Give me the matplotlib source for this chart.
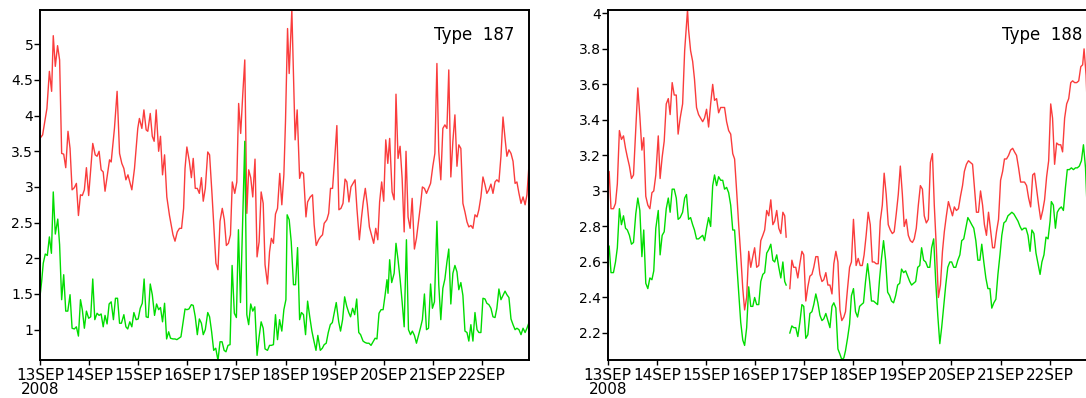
import numpy as np
import matplotlib
matplotlib.use('Agg')
import matplotlib.pyplot as plt

# x axis: hours after 13SEP2008 00Z
day_ticks = [0, 24, 48, 72, 96, 120, 144, 168, 192, 216]
day_labels = ['13SEP\n2008', '14SEP', '15SEP', '16SEP', '17SEP',
              '18SEP', '19SEP', '20SEP', '21SEP', '22SEP']

# ---- Type 187 ----
red187_h = [
    0, 1.3, 3.4, 4.6, 5.7, 6.5, 7.5, 8.6, 9.6, 10.6,
    11.6, 12.6, 13.7, 14.7, 15.7, 16.8, 17.8, 18.8, 19.8, 20.7,
    21.7, 22.7, 23.8, 25.8, 27.0, 27.9, 28.9, 29.9, 30.9, 31.8,
    34.0, 34.8, 36.4, 37.7, 38.9, 40.0, 41.0, 42.0, 43.0, 44.9,
    46.2, 47.8, 48.6, 49.8, 50.8, 51.9, 52.7, 53.9, 54.9, 55.8,
    56.8, 58.0, 58.9, 59.9, 60.9, 62.0, 63.3, 65.0, 66.0, 67.1,
    68.2, 69.2, 70.2, 70.9, 71.8, 73.0, 74.0, 74.9, 75.9, 76.9,
    77.9, 78.9, 79.8, 80.8, 82.0, 82.9, 84.1, 85.1, 86.0, 87.0,
    88.0, 89.1, 90.1, 91.1, 92.1, 93.1, 94.0, 95.2, 96.2, 97.1,
    98.1, 99.1, 100.1, 101.1, 102.0, 103.0, 104.0, 105.1, 106.1, 107.1,
    108.1, 109.1, 110.0, 111.2, 112.2, 113.1, 114.1, 115.1, 116.1, 117.2,
    118.2, 119.2, 120.0, 121.0, 121.8, 123.1, 124.7, 125.7, 126.9, 127.7,
    128.8, 130.0, 130.8, 132.1, 133.2, 134.0, 135.0, 136.2, 137.1, 138.1,
    138.9, 140.2, 141.1, 142.0, 143.0, 144.0, 145.1, 146.1, 147.1, 148.1,
    149.1, 150.0, 151.0, 152.0, 153.0, 154.0, 154.9, 156.1, 157.1, 158.0,
    159.0, 160.0, 161.0, 162.0, 163.1, 164.1, 165.1, 166.0, 167.0, 168.0,
    169.0, 170.0, 170.9, 172.1, 173.1, 174.0, 175.0, 176.0, 177.0, 178.0,
    178.9, 179.9, 180.9, 181.9, 183.0, 184.0, 185.0, 186.0, 186.9, 187.9,
    188.9, 189.9, 190.9, 192.0, 193.0, 194.0, 194.9, 195.9, 196.9, 197.9,
    198.9, 199.8, 200.8, 201.8, 202.8, 203.8, 204.7, 205.7, 206.7, 207.7,
    208.7, 209.6, 210.6, 211.6, 212.6, 213.6, 214.5, 215.5, 216.5, 217.5,
    218.4, 219.4, 220.4, 221.4, 222.4, 223.3, 224.3, 225.3, 226.3, 227.3,
    228.2, 229.2, 230.2, 231.2, 232.2, 233.1, 234.1, 235.1, 236.1, 237.1,
    238.0, 239.0]
red187_v = [
    3.68, 3.73, 4.10, 4.62, 4.34, 5.12, 4.69, 4.98, 4.78, 3.47,
    3.46, 3.27, 3.78, 3.54, 2.96, 2.99, 3.05, 2.60, 2.89, 2.88,
    2.96, 3.27, 2.88, 3.61, 3.45, 3.43, 3.50, 3.24, 3.21, 2.94,
    3.38, 3.35, 3.82, 4.34, 3.47, 3.33, 3.26, 3.10, 3.17, 2.96,
    3.26, 3.82, 3.96, 3.82, 4.08, 3.80, 3.78, 4.03, 3.71, 3.64,
    4.08, 3.50, 3.71, 3.17, 3.45, 2.86, 2.60, 2.33, 2.24, 2.37,
    2.42, 2.42, 2.70, 3.26, 3.56, 3.36, 3.13, 3.40, 2.98, 2.98,
    2.91, 3.13, 2.80, 2.98, 3.49, 3.45, 2.89, 2.37, 1.93, 1.84,
    2.52, 2.70, 2.54, 2.18, 2.21, 2.33, 3.07, 2.91, 3.07, 4.17,
    3.75, 4.29, 4.78, 2.63, 3.24, 3.13, 2.86, 3.39, 2.02, 2.23,
    2.93, 2.77, 1.91, 1.64, 2.09, 2.28, 2.21, 2.62, 2.70, 3.19,
    2.75, 3.17, 3.92, 5.22, 4.59, 5.48, 3.66, 4.08, 3.12, 3.21,
    3.19, 2.58, 2.79, 2.86, 2.89, 2.47, 2.18, 2.26, 2.30, 2.33,
    2.49, 2.54, 2.63, 2.98, 2.98, 3.38, 3.86, 2.68, 2.70, 2.77,
    3.11, 3.07, 2.79, 3.00, 3.05, 3.10, 2.70, 2.26, 2.56, 2.79,
    2.98, 2.75, 2.44, 2.33, 2.21, 2.42, 2.26, 2.79, 3.07, 2.80,
    3.66, 3.33, 3.68, 2.93, 2.82, 4.30, 3.40, 3.57, 3.12, 2.37,
    3.50, 2.58, 2.42, 2.84, 2.13, 2.28, 2.51, 2.75, 3.00, 2.98,
    2.91, 2.98, 3.05, 3.29, 3.47, 4.73, 3.50, 3.10, 3.82, 3.87,
    3.82, 4.64, 3.14, 3.64, 4.01, 3.29, 3.59, 3.54, 2.77, 2.65,
    2.51, 2.44, 2.46, 2.42, 2.61, 2.58, 2.68, 2.86, 3.14, 3.03,
    2.91, 2.96, 3.04, 2.91, 3.07, 3.10, 3.07, 3.43, 3.98, 3.68,
    3.43, 3.52, 3.47, 3.36, 3.05, 3.07, 2.91, 2.77, 2.86, 2.75,
    2.89, 3.31]

green187_h = [
    0.0, 0.8, 1.6, 2.6, 3.6, 4.6, 5.6, 6.5, 7.5, 8.7,
    9.6, 10.6, 11.6, 12.6, 13.6, 14.7, 15.7, 16.8, 17.8, 18.8,
    19.8, 20.7, 21.7, 22.7, 23.8, 24.8, 25.8, 26.8, 27.9, 28.9,
    29.9, 30.9, 31.8, 32.8, 33.8, 34.8, 35.9, 36.9, 37.9, 38.9,
    39.8, 41.0, 42.0, 42.9, 43.9, 44.9, 45.9, 47.0, 48.0, 49.0,
    50.0, 50.9, 51.9, 52.9, 53.9, 54.9, 56.0, 57.0, 58.0, 58.9,
    59.9, 60.9, 61.9, 62.9, 63.8, 65.0, 66.0, 66.9, 67.9, 68.9,
    69.9, 70.9, 71.8, 72.8, 74.0, 74.9, 75.9, 76.9, 77.9, 78.9,
    79.8, 80.8, 82.0, 82.9, 83.9, 84.9, 85.9, 87.0, 88.0, 89.0,
    90.0, 90.9, 91.9, 92.9, 93.9, 95.0, 96.0, 97.0, 98.0, 100.1,
    101.1, 102.0, 103.0, 104.0, 105.0, 106.1, 107.1, 108.1, 109.1, 110.0,
    111.2, 112.2, 113.1, 114.1, 115.1, 116.1, 117.1, 118.2, 119.2, 120.2,
    120.8, 121.8, 122.8, 123.9, 124.9, 125.9, 126.9, 127.8, 128.8, 129.8,
    130.8, 131.9, 132.9, 133.9, 134.9, 135.8, 137.0, 138.0, 138.9, 139.9,
    140.9, 141.9, 142.9, 143.8, 144.8, 146.0, 146.9, 147.9, 148.9, 149.9,
    150.9, 151.8, 152.8, 153.8, 154.8, 155.8, 156.7, 157.9, 158.9, 159.8,
    160.8, 161.8, 162.8, 163.8, 164.7, 165.7, 166.7, 167.7, 168.7, 169.6,
    170.1, 170.9, 171.9, 173.1, 174.0, 175.0, 176.0, 177.0, 178.0, 179.1,
    180.1, 181.1, 182.0, 183.0, 184.0, 185.0, 186.0, 186.9, 187.9, 188.9,
    189.9, 190.9, 191.8, 192.8, 194.0, 194.9, 195.9, 196.9, 197.9, 198.9,
    199.8, 200.8, 201.8, 202.8, 203.8, 204.7, 205.7, 206.7, 207.7, 208.7,
    209.6, 210.6, 211.6, 212.6, 213.6, 214.5, 215.5, 216.5, 217.5, 218.4,
    219.4, 220.4, 221.4, 222.4, 223.3, 224.3, 225.3, 226.3, 227.3, 228.2,
    229.2, 230.2, 231.2, 232.2, 233.1, 234.1, 235.1, 236.1, 237.1, 238.0,
    239.0]
green187_v = [
    1.46, 1.67, 1.93, 2.06, 2.04, 2.30, 2.07, 2.93, 2.34, 2.55,
    2.19, 1.42, 1.77, 1.26, 1.26, 1.49, 1.02, 1.01, 1.04, 0.91,
    1.42, 1.28, 1.02, 1.26, 1.16, 1.18, 1.71, 1.14, 1.23, 1.20,
    1.22, 1.04, 1.20, 1.08, 1.36, 1.39, 1.14, 1.44, 1.44, 1.09,
    1.09, 1.21, 1.04, 1.01, 1.11, 1.04, 1.24, 1.14, 1.15, 1.30,
    1.37, 1.71, 1.18, 1.17, 1.64, 1.49, 1.20, 1.36, 1.28, 1.31,
    1.11, 1.37, 0.87, 0.97, 0.88, 0.87, 0.87, 0.86, 0.88, 0.90,
    1.09, 1.29, 1.28, 1.29, 1.35, 1.34, 1.18, 0.93, 1.15, 1.09,
    0.93, 1.00, 1.24, 1.18, 0.97, 0.71, 0.74, 0.57, 0.83, 0.83,
    0.71, 0.69, 0.78, 0.79, 1.90, 1.23, 1.17, 2.40, 1.38, 3.64,
    1.21, 1.07, 1.36, 1.26, 1.32, 0.64, 0.90, 1.11, 1.02, 0.73,
    0.71, 0.78, 0.78, 0.79, 1.21, 0.86, 1.14, 0.98, 1.28, 1.42,
    2.61, 2.54, 2.23, 1.63, 1.63, 2.15, 1.14, 1.24, 1.21, 0.93,
    1.40, 1.17, 0.98, 0.84, 0.71, 0.92, 0.71, 0.74, 0.79, 0.81,
    0.96, 1.07, 1.10, 1.23, 1.38, 1.11, 0.98, 1.14, 1.46, 1.33,
    1.24, 1.18, 1.30, 1.21, 1.43, 0.96, 0.93, 0.84, 0.82, 0.81,
    0.81, 0.78, 0.83, 0.88, 0.87, 1.23, 1.28, 1.28, 1.49, 1.70,
    1.51, 1.98, 1.66, 1.79, 2.21, 1.98, 1.71, 1.39, 1.04, 2.26,
    1.00, 0.93, 0.98, 0.92, 0.81, 0.92, 1.03, 1.14, 1.50, 1.00,
    1.02, 1.64, 1.30, 1.39, 2.52, 1.63, 1.14, 1.58, 1.71, 1.95,
    2.13, 1.36, 1.79, 1.90, 1.81, 1.56, 1.66, 1.48, 0.98, 0.96,
    0.84, 1.07, 0.84, 1.24, 1.00, 0.96, 0.96, 1.44, 1.43, 1.37,
    1.35, 1.30, 1.18, 1.17, 1.30, 1.57, 1.42, 1.48, 1.54, 1.49,
    1.45, 1.15, 1.07, 1.00, 1.02, 1.00, 0.93, 1.02, 0.96, 1.02,
    1.10]

# ---- Type 188 (one missing hour on 16SEP) ----
red188_h = [
    0.0, 0.7, 1.6, 2.8, 3.8, 4.7, 5.7, 6.7, 7.7, 8.7,
    9.6, 10.6, 11.6, 12.6, 13.7, 14.7, 15.7, 16.7, 17.6, 18.6,
    19.6, 20.6, 21.6, 22.5, 23.5, 24.7, 25.6, 26.6, 27.6, 28.6,
    29.6, 30.5, 31.5, 32.5, 33.5, 34.4, 35.4, 36.6, 37.6, 39.0,
    39.5, 40.5, 41.5, 42.4, 43.4, 44.4, 45.4, 46.4, 47.3, 48.3,
    49.3, 50.3, 51.3, 52.2, 53.2, 54.2, 55.2, 56.2, 57.1, 58.1,
    59.1, 60.1, 61.1, 62.0, 63.0, 64.0, 65.0, 66.0, 66.9, 67.9,
    68.9, 69.9, 70.9, 71.8, 72.8, 73.8, 74.8, 75.8, 76.7, 77.7,
    78.7, 79.7, 80.7, 81.6, 82.6, 83.6, 84.6, 85.6, 86.5, 87.2,
    88.0, 89.0, 90.0, 90.9, 91.9, 92.9, 93.9, 94.9, 95.8, 96.8,
    97.8, 98.8, 99.8, 100.7, 101.7, 102.7, 103.7, 104.7, 105.6, 106.6,
    107.6, 108.6, 109.6, 110.5, 111.5, 112.5, 113.5, 114.4, 115.4, 116.2,
    117.2, 118.2, 119.1, 120.1, 121.4, 122.4, 123.4, 124.4, 125.3, 126.3,
    127.3, 128.3, 129.3, 130.2, 131.2, 132.2, 133.2, 134.2, 135.1, 136.1,
    137.1, 138.1, 139.1, 140.0, 141.0, 142.0, 143.0, 144.0, 144.9, 145.9,
    146.9, 147.9, 148.9, 149.8, 150.8, 151.8, 152.8, 153.8, 154.7, 155.7,
    156.7, 157.7, 158.7, 159.6, 160.6, 161.6, 162.6, 163.6, 164.5, 165.5,
    166.5, 167.5, 168.5, 169.4, 170.4, 171.4, 172.4, 173.4, 174.3, 175.3,
    176.3, 177.3, 178.3, 179.2, 180.2, 181.2, 182.2, 183.2, 184.1, 185.1,
    186.1, 187.1, 188.1, 189.0, 190.0, 191.0, 192.0, 193.0, 193.9, 194.9,
    195.9, 196.9, 197.9, 198.8, 199.8, 200.8, 201.8, 202.8, 203.7, 204.7,
    205.7, 206.7, 207.7, 208.6, 209.6, 210.6, 211.6, 212.6, 213.5, 214.5,
    215.5, 216.5, 217.4, 218.4, 219.4, 220.4, 221.4, 222.3, 223.3, 224.3,
    225.3, 226.3, 227.2, 228.2, 229.2, 230.2, 231.2, 232.1, 232.8, 233.8,
    234.4]
red188_v = [
    3.00, 3.11, 2.90, 2.90, 2.93, 3.04, 3.34, 3.29, 3.31, 3.24,
    3.19, 3.14, 3.07, 3.09, 3.35, 3.58, 3.42, 3.23, 3.30, 2.97,
    2.92, 2.90, 2.99, 3.00, 3.09, 3.31, 3.07, 3.19, 3.28, 3.49,
    3.52, 3.43, 3.61, 3.54, 3.54, 3.32, 3.41, 3.49, 3.79, 4.02,
    3.91, 3.79, 3.73, 3.63, 3.47, 3.43, 3.41, 3.39, 3.41, 3.46,
    3.36, 3.49, 3.60, 3.51, 3.52, 3.44, 3.47, 3.47, 3.47, 3.39,
    3.34, 3.32, 3.21, 3.18, 3.00, 2.81, 2.64, 2.45, 2.33, 2.40,
    2.66, 2.57, 2.63, 2.68, 2.57, 2.58, 2.72, 2.75, 2.78, 2.89,
    2.86, 2.95, 2.81, 2.83, 2.89, 2.79, 2.76, 2.88, 2.86, 2.74,
    np.nan, 2.45, 2.61, 2.57, 2.57, 2.51, 2.59, 2.66, 2.64, 2.38,
    2.46, 2.52, 2.53, 2.57, 2.63, 2.63, 2.53, 2.49, 2.50, 2.54,
    2.47, 2.47, 2.42, 2.59, 2.66, 2.60, 2.33, 2.27, 2.29, 2.32,
    2.45, 2.57, 2.60, 2.84, 2.58, 2.62, 2.58, 2.58, 2.64, 2.75,
    2.88, 2.81, 2.60, 2.60, 2.59, 2.59, 2.83, 2.92, 3.10, 2.98,
    2.81, 2.78, 2.76, 2.77, 2.87, 2.98, 3.14, 2.98, 2.80, 2.84,
    2.75, 2.72, 2.71, 2.73, 2.79, 2.92, 3.03, 3.01, 2.86, 2.82,
    2.84, 3.16, 3.21, 2.92, 2.68, 2.40, 2.47, 2.66, 2.77, 2.86,
    2.94, 2.90, 2.86, 2.91, 2.89, 2.90, 2.97, 3.03, 3.11, 3.15,
    3.17, 3.16, 3.15, 3.02, 2.88, 2.88, 3.00, 2.92, 2.81, 2.75,
    2.88, 2.78, 2.68, 2.68, 2.77, 2.84, 3.06, 3.11, 3.18, 3.18,
    3.20, 3.23, 3.24, 3.22, 3.20, 3.13, 3.05, 3.05, 3.05, 3.03,
    2.96, 2.91, 3.09, 3.10, 3.01, 2.92, 2.84, 2.89, 2.95, 3.08,
    3.17, 3.49, 3.41, 3.15, 3.27, 3.26, 3.26, 3.22, 3.41, 3.49,
    3.52, 3.61, 3.62, 3.61, 3.61, 3.62, 3.70, 3.71, 3.80, 3.65,
    3.45]

green188_h = [
    0.0, 0.7, 1.6, 2.8, 3.8, 4.7, 5.7, 6.7, 7.7, 8.7,
    9.6, 10.6, 11.6, 12.6, 13.7, 14.7, 15.7, 16.7, 17.6, 18.6,
    19.6, 20.6, 21.6, 22.5, 23.5, 24.7, 25.6, 26.6, 27.6, 28.6,
    29.6, 30.5, 31.5, 32.5, 33.5, 34.4, 35.4, 36.6, 37.6, 38.5,
    39.5, 40.5, 41.5, 42.4, 43.4, 44.4, 45.4, 46.4, 47.3, 48.3,
    49.3, 50.3, 51.3, 52.2, 53.2, 54.2, 55.2, 56.2, 57.1, 58.1,
    59.1, 60.1, 61.1, 62.0, 63.0, 64.0, 65.0, 66.0, 66.9, 67.9,
    68.9, 69.9, 70.9, 71.8, 72.8, 73.8, 74.8, 75.8, 76.7, 77.7,
    78.7, 79.7, 80.7, 81.6, 82.6, 83.6, 84.6, 85.6, 86.5, 87.2,
    88.0, 89.0, 90.0, 90.9, 91.9, 92.9, 93.9, 94.9, 95.8, 96.8,
    97.8, 98.8, 99.8, 100.7, 101.7, 102.7, 103.7, 104.7, 105.6, 106.6,
    107.6, 108.6, 109.6, 110.5, 111.5, 112.5, 113.5, 114.4, 115.4, 116.2,
    117.2, 118.2, 119.1, 120.1, 121.1, 122.1, 123.1, 124.0, 125.0, 126.0,
    127.0, 128.0, 128.9, 129.9, 130.9, 131.9, 132.9, 133.8, 134.8, 135.8,
    136.8, 137.8, 138.7, 139.7, 140.7, 141.7, 142.7, 143.6, 144.6, 145.6,
    146.6, 147.6, 148.5, 149.5, 150.5, 151.5, 152.5, 153.4, 154.4, 155.4,
    156.4, 157.4, 158.3, 159.3, 160.3, 161.3, 162.3, 163.2, 164.2, 165.2,
    166.2, 167.2, 168.1, 169.1, 170.1, 171.1, 172.1, 173.0, 174.0, 175.0,
    176.0, 177.0, 177.9, 178.9, 179.9, 180.9, 181.9, 182.8, 183.8, 184.8,
    185.8, 186.8, 187.7, 188.7, 189.7, 190.7, 191.7, 192.6, 193.6, 194.6,
    195.6, 196.6, 197.5, 198.5, 199.5, 200.5, 201.5, 202.4, 203.4, 204.4,
    205.4, 206.4, 207.3, 208.3, 209.3, 210.3, 211.3, 212.2, 213.2, 214.2,
    215.2, 216.2, 216.8, 217.8, 218.8, 219.7, 220.7, 221.7, 222.7, 223.7,
    224.6, 225.6, 226.6, 227.6, 228.6, 229.5, 230.5, 231.5, 232.5, 233.5,
    234.3]
green188_v = [
    2.62, 2.69, 2.54, 2.54, 2.60, 2.68, 2.90, 2.81, 2.86, 2.79,
    2.78, 2.75, 2.70, 2.71, 2.87, 2.96, 2.89, 2.63, 2.78, 2.48,
    2.45, 2.51, 2.50, 2.55, 2.79, 2.89, 2.64, 2.75, 2.77, 2.90,
    2.96, 2.88, 3.01, 3.01, 2.96, 2.84, 2.85, 2.88, 2.96, 2.98,
    2.84, 2.85, 2.81, 2.78, 2.73, 2.73, 2.74, 2.75, 2.72, 2.79,
    2.85, 2.80, 3.03, 3.09, 3.03, 3.08, 3.06, 3.06, 3.01, 3.02,
    2.99, 2.92, 2.78, 2.78, 2.60, 2.43, 2.26, 2.16, 2.13, 2.23,
    2.46, 2.35, 2.35, 2.40, 2.36, 2.36, 2.49, 2.53, 2.54, 2.65,
    2.67, 2.70, 2.61, 2.60, 2.64, 2.57, 2.51, 2.60, 2.49, 2.47,
    np.nan, 2.20, 2.24, 2.23, 2.23, 2.18, 2.26, 2.36, 2.35, 2.17,
    2.19, 2.31, 2.32, 2.36, 2.42, 2.37, 2.30, 2.27, 2.28, 2.31,
    2.27, 2.23, 2.35, 2.37, 2.34, 2.11, 2.08, 2.05, 2.06, 2.10,
    2.17, 2.25, 2.41, 2.45, 2.32, 2.29, 2.35, 2.36, 2.37, 2.49,
    2.59, 2.49, 2.38, 2.38, 2.37, 2.36, 2.51, 2.62, 2.72, 2.61,
    2.43, 2.41, 2.38, 2.37, 2.41, 2.47, 2.48, 2.56, 2.54, 2.55,
    2.52, 2.49, 2.47, 2.48, 2.49, 2.57, 2.58, 2.68, 2.61, 2.60,
    2.57, 2.57, 2.68, 2.73, 2.49, 2.30, 2.14, 2.23, 2.35, 2.47,
    2.57, 2.60, 2.60, 2.57, 2.57, 2.61, 2.64, 2.72, 2.73, 2.79,
    2.85, 2.83, 2.81, 2.79, 2.72, 2.61, 2.61, 2.70, 2.60, 2.51,
    2.45, 2.45, 2.34, 2.37, 2.39, 2.53, 2.64, 2.75, 2.82, 2.83,
    2.86, 2.87, 2.88, 2.87, 2.85, 2.83, 2.80, 2.78, 2.79, 2.79,
    2.75, 2.66, 2.78, 2.76, 2.65, 2.59, 2.53, 2.60, 2.64, 2.74,
    2.73, 2.83, 2.94, 2.92, 2.79, 2.88, 2.90, 2.91, 2.89, 3.02,
    3.12, 3.12, 3.13, 3.12, 3.13, 3.13, 3.14, 3.17, 3.26, 3.13,
    2.90]

yticks187 = [1, 1.5, 2, 2.5, 3, 3.5, 4, 4.5, 5]
yticks188 = [2.2, 2.4, 2.6, 2.8, 3.0, 3.2, 3.4, 3.6, 3.8, 4.0]

RED = '#fa3c3c'
GREEN = '#00dc00'

fig = plt.figure(figsize=(10.86, 3.98), dpi=100)


def draw_panel(rect, red, green, ylim, yticks, title):
    ax = fig.add_axes(rect)
    ax.plot(red[0], red[1], color=RED, lw=1.0)
    ax.plot(green[0], green[1], color=GREEN, lw=1.0)
    ax.set_xlim(0, 239)
    ax.set_ylim(*ylim)
    ax.set_xticks(day_ticks)
    ax.set_xticklabels(day_labels, fontsize=11, linespacing=0.95)
    ax.set_yticks(yticks)
    ax.set_yticklabels([f'{t:g}' for t in yticks], fontsize=10)
    ax.tick_params(axis='x', direction='out', length=3.6, width=1.0, pad=2)
    ax.tick_params(axis='y', direction='out', length=4.3, width=1.0, pad=0.5)
    for s in ax.spines.values():
        s.set_linewidth(1.4)
    ax.text(0.971, 0.915, title, transform=ax.transAxes, ha='right',
            va='baseline', fontsize=12)
    return ax


draw_panel([0.0368, 0.0955, 0.4503, 0.8794],
           (red187_h, red187_v), (green187_h, green187_v),
           (0.575, 5.48), yticks187, 'Type  187')
# right panel runs past the figure edge, as in the original
draw_panel([0.5596, 0.0955, 0.4503, 0.8794],
           (red188_h, red188_v), (green188_h, green188_v),
           (2.048, 4.019), yticks188, 'Type  188')

fig.savefig('out.png', dpi=100, facecolor='white')
